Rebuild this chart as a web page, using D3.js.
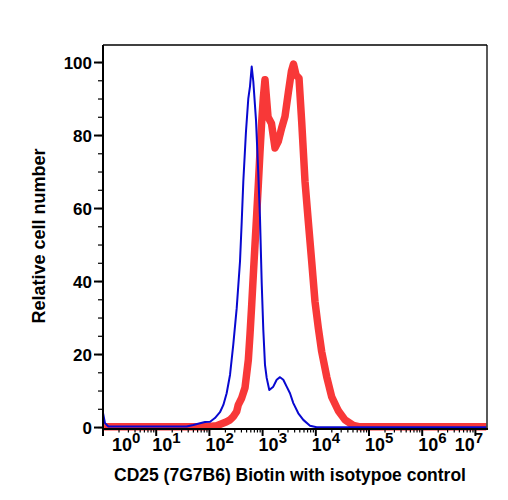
<!DOCTYPE html>
<html lang="en">
<head>
<meta charset="UTF-8">
<title>CD25 histogram</title>
<script src="https://d3js.org/d3.v7.min.js"></script>
<style>
  body { margin: 0; background: #fff; }
  text { font-family: "Liberation Sans", Arial, sans-serif; font-weight: bold; fill: #000; }
</style>
</head>
<body>
<script>
// isotype control (blue): [intensity, relative count]
var isotype = [
  [1, 4.0], [1.09, 1.2], [1.26, 0.3], [37.4, 0.3], [49.8, 0.7], [66.6, 1.2], [82.7, 1.5],
  [103, 1.6], [127, 2.6], [158, 4.2], [183, 6.2], [211, 9.4], [244, 14.4], [281, 22.7],
  [326, 32.7], [376, 45.5], [405, 56.4], [434, 67.4], [487, 81.1], [539, 90.2], [579, 93.4],
  [624, 98.9], [669, 94.8], [751, 84.3], [830, 69.5], [893, 57.5], [962, 39.6], [1031, 26.8],
  [1109, 17.2], [1193, 13.6], [1336, 10.3], [1588, 11.2], [1840, 13.1], [2125, 13.8],
  [2450, 13.1], [2837, 11.2], [3272, 9.4], [3778, 6.7], [4690, 3.9], [5823, 2.1],
  [7780, 0.5], [10400, 0.1], [16000000, 0.05]
];

// CD25 (7G7B6) biotin (red)
var cd25 = [
  [1.05, 0.2], [89, 0.2], [137, 0.5], [211, 1.6], [244, 2.1], [281, 3.0], [326, 4.4],
  [349, 6.2], [405, 8.1], [467, 10.9], [539, 18.5], [579, 25.4], [624, 33.6], [669, 41.8],
  [719, 50.0], [774, 58.3], [830, 66.4], [893, 75.5], [962, 83.8], [1031, 90.3],
  [1109, 95.3], [1264, 85.1], [1469, 83.3], [1711, 76.6], [1973, 78.4], [2284, 82.1],
  [2636, 85.2], [3041, 91.7], [3492, 97.7], [3808, 99.6], [4245, 96.6], [4834, 95.7],
  [5431, 83.8], [6270, 67.4], [7234, 56.4], [8374, 45.5], [9660, 34.5], [11140, 27.3],
  [12900, 20.8], [16040, 13.9], [19900, 8.4], [26500, 4.6], [35400, 2.1], [50700, 0.6],
  [67800, 0.2], [16000000, 0.2]
];

var yTicks = [0, 20, 40, 60, 80, 100];
var decades = [0, 1, 2, 3, 4, 5, 6, 7];

var W = 508, H = 500;
var plotL = 103, plotR = 487, plotT = 45, plotB = 429;

var x = d3.scaleLog().domain([1, Math.pow(10, 7.218)]).range([plotL, plotR]);
var y = d3.scaleLinear().domain([-0.4, 104.8]).range([plotB, plotT]);

var svg = d3.select("body").append("svg")
  .attr("width", W).attr("height", H);

svg.append("rect").attr("width", W).attr("height", H).attr("fill", "#fff");

var line = d3.line()
  .x(function(d) { return x(d[0]); })
  .y(function(d) { return y(d[1]); });

svg.append("path")
  .attr("d", line(cd25))
  .attr("fill", "none")
  .attr("stroke", "#f83838")
  .attr("stroke-width", 7.5)
  .attr("stroke-linejoin", "round");

svg.append("path")
  .attr("d", line(isotype))
  .attr("fill", "none")
  .attr("stroke", "#0808d0")
  .attr("stroke-width", 2)
  .attr("stroke-linejoin", "round");

// frame: thin top/right, thicker axes
svg.append("line").attr("x1", plotL).attr("x2", plotR).attr("y1", plotT).attr("y2", plotT)
  .attr("stroke", "#000").attr("stroke-width", 1.3);
svg.append("line").attr("x1", plotR).attr("x2", plotR).attr("y1", plotT).attr("y2", plotB)
  .attr("stroke", "#000").attr("stroke-width", 1.3);

// y axis
var yMinor = d3.range(0, 101, 5);
var ya = svg.append("g");
ya.selectAll(".minor").data(yMinor).enter().append("line")
  .attr("x1", plotL - 5).attr("x2", plotL)
  .attr("y1", function(d) { return y(d); }).attr("y2", function(d) { return y(d); })
  .attr("stroke", "#000").attr("stroke-width", 1.2);
ya.selectAll(".major").data(yTicks).enter().append("line")
  .attr("x1", plotL - 9).attr("x2", plotL)
  .attr("y1", function(d) { return y(d); }).attr("y2", function(d) { return y(d); })
  .attr("stroke", "#000").attr("stroke-width", 2);
ya.selectAll("text").data(yTicks).enter().append("text")
  .attr("x", plotL - 11).attr("y", function(d) { return y(d); })
  .attr("dy", "0.36em").attr("text-anchor", "end")
  .style("font-size", "17px").text(function(d) { return d; });
ya.append("line").attr("x1", plotL).attr("x2", plotL).attr("y1", plotT).attr("y2", plotB + 1)
  .attr("stroke", "#000").attr("stroke-width", 2);

// x axis (log)
var xa = svg.append("g");
var minor = [];
decades.forEach(function(e) {
  for (var k = 2; k <= 9; k++) {
    var v = k * Math.pow(10, e);
    if (x(v) <= plotR) minor.push(v);
  }
});
xa.selectAll(".minor").data(minor).enter().append("line")
  .attr("x1", function(d) { return x(d); }).attr("x2", function(d) { return x(d); })
  .attr("y1", plotB).attr("y2", plotB + 3.5)
  .attr("stroke", "#000").attr("stroke-width", 1.2);
xa.selectAll(".major").data(decades).enter().append("line")
  .attr("x1", function(d) { return x(Math.pow(10, d)); }).attr("x2", function(d) { return x(Math.pow(10, d)); })
  .attr("y1", plotB).attr("y2", plotB + 7)
  .attr("stroke", "#000").attr("stroke-width", 2);
xa.append("line").attr("x1", plotL - 1).attr("x2", plotR + 1).attr("y1", plotB).attr("y2", plotB)
  .attr("stroke", "#000").attr("stroke-width", 2);

var labels = xa.selectAll(".lab").data(decades).enter().append("text")
  .attr("y", 451).style("font-size", "18px");
labels.append("tspan").text("10");
labels.append("tspan").attr("dy", -8).style("font-size", "15px").text(function(d) { return d; });
labels.each(function(d) {
  var w = this.getComputedTextLength();
  var xs = x(Math.pow(10, d)) - 4;
  xs = Math.max(xs, plotL + 9);
  xs = Math.min(xs, plotR - 4 - w);
  d3.select(this).attr("x", xs);
});

// titles
svg.append("text")
  .attr("x", 290).attr("y", 481).attr("text-anchor", "middle")
  .style("font-size", "17.5px")
  .text("CD25 (7G7B6) Biotin with isotypoe control");

svg.append("text")
  .attr("transform", "translate(45,236) rotate(-90)")
  .attr("text-anchor", "middle")
  .style("font-size", "18px")
  .text("Relative cell number");
</script>
</body>
</html>
